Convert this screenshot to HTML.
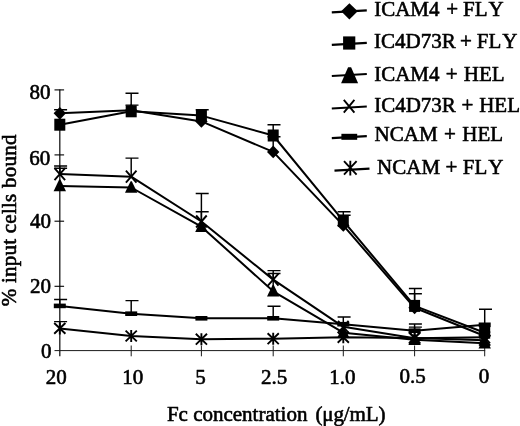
<!DOCTYPE html>
<html lang="en"><head><meta charset="utf-8"><title>Fc concentration binding chart</title>
<style>html,body{margin:0;padding:0;background:#fff}body{width:520px;height:426px;overflow:hidden}</style></head>
<body>
<svg width="520" height="426" viewBox="0 0 520 426" style="display:block">
<rect width="520" height="426" fill="#fff"/>
<g stroke="#000" fill="none" stroke-linecap="butt">
<path d="M59.8 89.4V356.3" stroke-width="1.3" stroke="#1a1a1a"/>
<path d="M54.5 350.6H485.2" stroke-width="1" stroke="#1a1a1a"/>
<path d="M54.5 286.3h9.6" stroke-width="1.1"/>
<path d="M54.5 221.2h9.6" stroke-width="1.1"/>
<path d="M54.5 154.9h9.6" stroke-width="1.1"/>
<path d="M54.5 89.9h9.6" stroke-width="1.1"/>
<path d="M131.2 345.5v10.8" stroke-width="1" stroke="#1a1a1a"/>
<path d="M201.4 345.5v10.8" stroke-width="1" stroke="#1a1a1a"/>
<path d="M273.2 345.5v10.8" stroke-width="1" stroke="#1a1a1a"/>
<path d="M343.3 345.5v10.8" stroke-width="1" stroke="#1a1a1a"/>
<path d="M414.6 345.5v10.8" stroke-width="1" stroke="#1a1a1a"/>
<path d="M484.7 345.5v10.8" stroke-width="1" stroke="#1a1a1a"/>
<path d="M59.8 113.3V109.7M54.1 109.7h13" stroke-width="1.45"/>
<path d="M131.2 111.3V93.3M125.5 93.3h13" stroke-width="1.45"/>
<path d="M131.2 110.3V105.1M125.5 105.1h13" stroke-width="1.45"/>
<path d="M201.4 115.6V109.7M195.7 109.7h13" stroke-width="1.45"/>
<path d="M273.2 135.5V124.7M267.5 124.7h13" stroke-width="1.45"/>
<path d="M273.2 151.9V136.8M267.5 136.8h13" stroke-width="1.45"/>
<path d="M343.3 220.9V211.7M337.6 211.7h13" stroke-width="1.45"/>
<path d="M343.3 225.4V215.3M337.6 215.3h13" stroke-width="1.45"/>
<path d="M414.6 305.9V288.5M408.9 288.5h13" stroke-width="1.45"/>
<path d="M414.6 307.8V293.8M408.9 293.8h13" stroke-width="1.45"/>
<path d="M484.7 324.8V309.3M479.0 309.3h13" stroke-width="1.45"/>
<path d="M59.8 174.1V165.9M54.1 165.9h13" stroke-width="1.45"/>
<path d="M59.8 174.1V168.2M54.1 168.2h13" stroke-width="1.45"/>
<path d="M131.2 176.7V158.1M125.5 158.1h13" stroke-width="1.45"/>
<path d="M201.4 221.5V193.4M195.7 193.4h13" stroke-width="1.45"/>
<path d="M201.4 226.7V211.7M195.7 211.7h13" stroke-width="1.45"/>
<path d="M273.2 279.6V270.6M267.5 270.6h13" stroke-width="1.45"/>
<path d="M273.2 291.3V273.5M267.5 273.5h13" stroke-width="1.45"/>
<path d="M59.8 305.9V299.5M54.1 299.5h13" stroke-width="1.45"/>
<path d="M131.2 313.7V300.6M125.5 300.6h13" stroke-width="1.45"/>
<path d="M273.2 318.3V306.2M267.5 306.2h13" stroke-width="1.45"/>
<path d="M343.3 324.2V317.0M337.6 317.0h13" stroke-width="1.45"/>
<path d="M414.6 330.7V323.9M408.9 323.9h13" stroke-width="1.45"/>
<path d="M414.6 338.2V327.1M408.9 327.1h13" stroke-width="1.45"/>
<path d="M59.8 328.4V321.6M54.1 321.6h13" stroke-width="1.45"/>
<polyline points="59.8,113.3 131.2,110.3 201.4,121.4 273.2,151.9 343.3,225.4 414.6,307.8 484.7,336.0" stroke-width="2.0" stroke-linejoin="round"/>
<polyline points="59.8,124.7 131.2,111.3 201.4,115.6 273.2,135.5 343.3,220.9 414.6,305.9 484.7,332.7" stroke-width="2.0" stroke-linejoin="round"/>
<polyline points="59.8,185.9 131.2,187.5 201.4,226.7 273.2,291.3 343.3,332.7 414.6,339.7 484.7,343.2" stroke-width="2.0" stroke-linejoin="round"/>
<polyline points="59.8,174.1 131.2,176.7 201.4,221.5 273.2,279.6 343.3,326.8 414.6,338.2 484.7,337.3" stroke-width="2.0" stroke-linejoin="round"/>
<polyline points="59.8,305.9 131.2,313.7 201.4,318.3 273.2,318.3 343.3,324.2 414.6,330.7 484.7,324.8" stroke-width="2.0" stroke-linejoin="round"/>
<polyline points="59.8,328.4 131.2,336.0 201.4,339.2 273.2,338.7 343.3,337.3 414.6,337.9 484.7,340.2" stroke-width="2.0" stroke-linejoin="round"/>
</g>
<g fill="#000">
<path d="M53.6 113.3L59.8 106.9L66.0 113.3L59.8 119.7Z"/>
<path d="M125.0 110.3L131.2 103.9L137.4 110.3L131.2 116.7Z"/>
<path d="M195.2 121.4L201.4 115.0L207.6 121.4L201.4 127.8Z"/>
<path d="M267.0 151.9L273.2 145.5L279.4 151.9L273.2 158.3Z"/>
<path d="M337.1 225.4L343.3 219.0L349.5 225.4L343.3 231.8Z"/>
<path d="M408.4 307.8L414.6 301.4L420.8 307.8L414.6 314.2Z"/>
<path d="M478.5 336.0L484.7 329.6L490.9 336.0L484.7 342.4Z"/>
<rect x="54.3" y="118.7" width="11.0" height="12.0"/>
<rect x="125.7" y="105.3" width="11.0" height="12.0"/>
<rect x="195.9" y="109.6" width="11.0" height="12.0"/>
<rect x="267.7" y="129.5" width="11.0" height="12.0"/>
<rect x="337.8" y="214.9" width="11.0" height="12.0"/>
<rect x="409.1" y="299.9" width="11.0" height="12.0"/>
<rect x="479.2" y="326.7" width="11.0" height="12.0"/>
<path d="M53.6 191.2L59.2 179.6h1.2L66.0 191.2Z"/>
<path d="M125.0 192.8L130.6 181.2h1.2L137.4 192.8Z"/>
<path d="M195.2 232.0L200.8 220.4h1.2L207.6 232.0Z"/>
<path d="M267.0 296.6L272.6 285.0h1.2L279.4 296.6Z"/>
<path d="M337.1 338.0L342.7 326.4h1.2L349.5 338.0Z"/>
<path d="M408.4 345.0L414.0 333.4h1.2L420.8 345.0Z"/>
<path d="M478.5 348.5L484.1 336.9h1.2L490.9 348.5Z"/>
<path d="M54.5 168.1l10.6 12.0M65.1 168.1l-10.6 12.0" stroke="#000" stroke-width="1.9" fill="none"/>
<path d="M125.9 170.7l10.6 12.0M136.5 170.7l-10.6 12.0" stroke="#000" stroke-width="1.9" fill="none"/>
<path d="M196.1 215.5l10.6 12.0M206.7 215.5l-10.6 12.0" stroke="#000" stroke-width="1.9" fill="none"/>
<path d="M267.9 273.6l10.6 12.0M278.5 273.6l-10.6 12.0" stroke="#000" stroke-width="1.9" fill="none"/>
<path d="M338.0 320.8l10.6 12.0M348.6 320.8l-10.6 12.0" stroke="#000" stroke-width="1.9" fill="none"/>
<path d="M409.3 332.2l10.6 12.0M419.9 332.2l-10.6 12.0" stroke="#000" stroke-width="1.9" fill="none"/>
<path d="M479.4 331.3l10.6 12.0M490.0 331.3l-10.6 12.0" stroke="#000" stroke-width="1.9" fill="none"/>
<rect x="53.8" y="303.6" width="12.0" height="4.6"/>
<rect x="125.2" y="311.4" width="12.0" height="4.6"/>
<rect x="195.4" y="316.0" width="12.0" height="4.6"/>
<rect x="267.2" y="316.0" width="12.0" height="4.6"/>
<rect x="337.3" y="321.9" width="12.0" height="4.6"/>
<rect x="408.6" y="328.4" width="12.0" height="4.6"/>
<rect x="478.7" y="322.5" width="12.0" height="4.6"/>
<path d="M54.2 323.0l11.2 10.8M65.4 323.0l-11.2 10.8M59.8 322.4v12.0" stroke="#000" stroke-width="1.9" fill="none"/>
<path d="M125.6 330.6l11.2 10.8M136.8 330.6l-11.2 10.8M131.2 330.0v12.0" stroke="#000" stroke-width="1.9" fill="none"/>
<path d="M195.8 333.8l11.2 10.8M207.0 333.8l-11.2 10.8M201.4 333.2v12.0" stroke="#000" stroke-width="1.9" fill="none"/>
<path d="M267.6 333.3l11.2 10.8M278.8 333.3l-11.2 10.8M273.2 332.7v12.0" stroke="#000" stroke-width="1.9" fill="none"/>
<path d="M337.7 331.9l11.2 10.8M348.9 331.9l-11.2 10.8M343.3 331.3v12.0" stroke="#000" stroke-width="1.9" fill="none"/>
<path d="M409.0 332.5l11.2 10.8M420.2 332.5l-11.2 10.8M414.6 331.9v12.0" stroke="#000" stroke-width="1.9" fill="none"/>
<path d="M479.1 334.8l11.2 10.8M490.3 334.8l-11.2 10.8M484.7 334.2v12.0" stroke="#000" stroke-width="1.9" fill="none"/>
<path d="M331.8 12.4L366.8 10.4" stroke="#000" stroke-width="2.1"/>
<path d="M341.1 11.3L349.4 3.2L357.7 11.3L349.4 19.4Z"/>
<path d="M331.8 44.9L366.8 42.9" stroke="#000" stroke-width="2.1"/>
<rect x="343.1" y="36.4" width="12.2" height="13.2"/>
<path d="M331.8 76.0L366.8 74.0" stroke="#000" stroke-width="2.1"/>
<path d="M341.1 83.2L348.1 67.3h3L358.1 83.2Z"/>
<path d="M331.8 108.5L366.8 106.5" stroke="#000" stroke-width="2.1"/>
<path d="M343.8 99.9l10.6 12.8M354.4 99.9l-10.6 12.8" stroke="#000" stroke-width="1.9" fill="none"/>
<path d="M331.8 138.1L366.8 136.1" stroke="#000" stroke-width="2.1"/>
<rect x="341.4" y="133.8" width="15.8" height="6.0"/>
<path d="M334.5 170.6L369.5 168.6" stroke="#000" stroke-width="2.1"/>
<path d="M344.0 161.2l12.6 13.5M356.6 161.2l-12.6 13.5M350.3 160.7v14.7" stroke="#000" stroke-width="1.9" fill="none"/>
</g>
<g font-family="'Liberation Serif', 'Times New Roman', serif" font-size="21" fill="#000" stroke="#000" stroke-width="0.6" stroke-linejoin="round">
<text x="374.2" y="16.1" style="font-kerning:none">ICAM4 <tspan x="446.3">+</tspan> <tspan x="463.1">FL<tspan dx="1">Y</tspan></tspan></text>
<text x="374.0" y="48.3" style="font-kerning:none">IC4D73R <tspan x="460.0">+</tspan> <tspan x="476.8">FL<tspan dx="1">Y</tspan></tspan></text>
<text x="374.2" y="80.7" style="word-spacing:1.0px">ICAM4 + HEL</text>
<text x="374.2" y="111.8" style="word-spacing:0.5px">IC4D73R + HEL</text>
<text x="374.6" y="141.4" style="word-spacing:1.2px">NCAM + HEL</text>
<text x="377.1" y="173.8" style="font-kerning:none">NCAM <tspan x="445.4">+</tspan> <tspan x="462.8">FL<tspan dx="1">Y</tspan></tspan></text>
<text x="50.6" y="99.0" text-anchor="end">80</text>
<text x="50.3" y="164.6" text-anchor="end">60</text>
<text x="51.0" y="228.2" text-anchor="end">40</text>
<text x="51.1" y="292.9" text-anchor="end">20</text>
<text x="51.6" y="357.5" text-anchor="end">0</text>
<text x="56.2" y="383.9" text-anchor="middle">20</text>
<text x="132.7" y="383.5" text-anchor="middle">10</text>
<text x="200.6" y="383.5" text-anchor="middle">5</text>
<text x="274" y="383.6" text-anchor="middle">2.5</text>
<text x="342.4" y="384" text-anchor="middle">1.0</text>
<text x="412.7" y="383" text-anchor="middle">0.5</text>
<text x="484" y="383" text-anchor="middle">0</text>
<text x="166.9" y="421">Fc concentration <tspan dx="2.8" textLength="70" lengthAdjust="spacing">(μg/mL)</tspan></text>
<text transform="translate(16.2 306.3) rotate(-90)" textLength="171.8" lengthAdjust="spacing">% input cells bound</text>
</g>
</svg>
</body></html>
